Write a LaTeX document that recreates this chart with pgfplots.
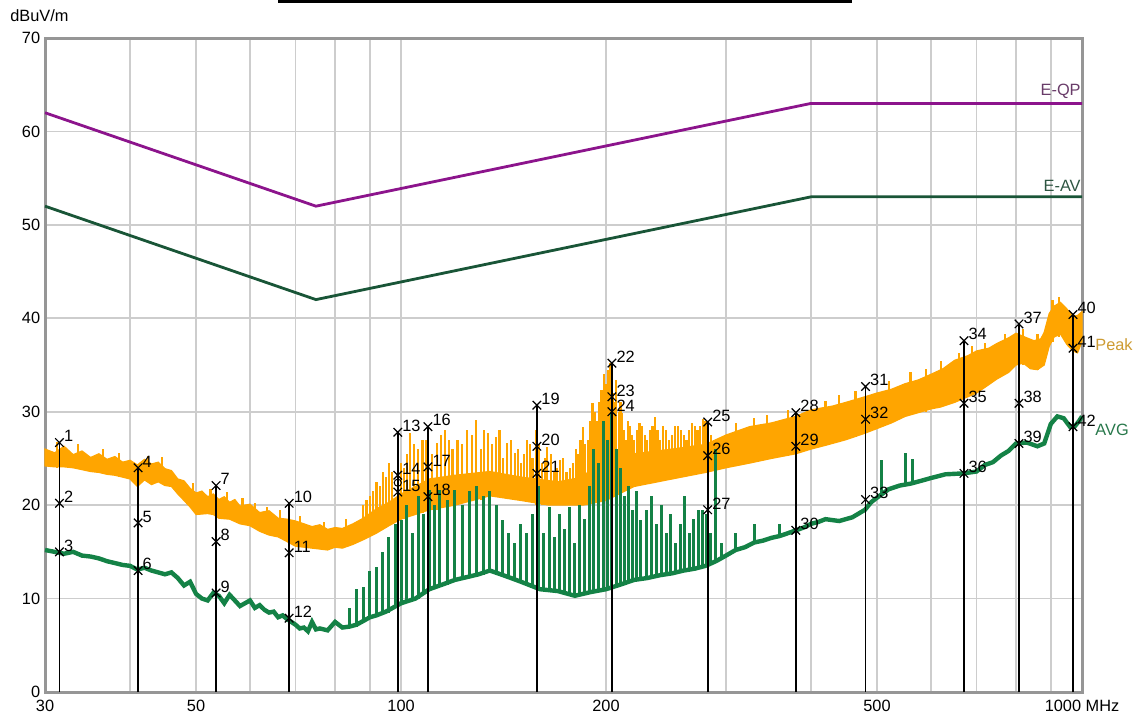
\documentclass[border=0pt]{standalone}
\usepackage{pgfplots}
\usepackage{pgfplotstable}
\pgfplotsset{compat=1.18}
\usepackage{fontspec}
\setmainfont{Liberation Sans}
\definecolor{pk}{RGB}{255,165,0}
\definecolor{avg}{RGB}{20,130,70}
\definecolor{qpl}{RGB}{140,20,140}
\definecolor{avl}{RGB}{25,85,55}
\definecolor{gridc}{RGB}{205,205,205}
\definecolor{framec}{RGB}{150,150,150}
\newcommand{\fs}{\fontsize{8.2}{10}\selectfont}

% spikes of the peak trace: f, base, top
\pgfplotstableread{
f b t
31.2 24 26.8
33.5 24 26.5
36.5 23.5 26
38.5 23 25.6
42.5 22.5 25.3
44.5 22.5 25.1
49.5 20 22.4
52.5 19 21.7
55.5 18.5 21.4
58.5 18 20.8
61 17.5 20.2
63.5 17 19.8
66.5 16.5 19.5
71 15.5 18.8
77 15.3 18.2
83 15.5 18.5
88 16.5 20
89 16.8 20.5
90 17 21
91 17 21.5
92 17 22.5
93 17.2 22
94 17.5 23.5
95 17.6 23
96 18 24.5
97 18 23.5
99 18.5 25
100 18.5 24.5
101 18.5 24
102 18.8 25.5
103 19 27.7
104.5 19 26.5
106 19 26
107.5 19.2 27
109 19.5 27
111 19.5 25.5
113 19.5 26.7
114.5 19.8 27.5
116 20 28
117.5 20 27
119 20 26
121 20 27
123 20.2 26.5
125 20.5 28
127 20.5 27.5
129 20.5 29.1
131 20.5 26
132.5 20.8 28
134 21 27.7
136 21 26.5
138 21 27.3
139.5 21 28
141 21 25
143 21 26.7
145 20.8 27
147 20.5 25.6
148.5 20.5 26
150 20.5 24.5
151.5 20.5 25.5
153 20.5 27
154.5 20.5 26.5
156 20.5 25
158 20 28
159.5 20.2 26.5
161 20 24.5
162.5 20 25
164 20 26.2
166 20 25.5
168 20 23.5
169.5 20 24
171 20 24.8
173 20 25
175 20 23.5
177 20 24
179 20 24.5
180.5 20 26
182 20 25.5
183.5 20 27
185 20 28.4
186.5 20.2 26.5
188 20.5 27
189.5 20.5 29
191 20.5 30.9
192.5 20.5 30
194 20.5 29
195.5 20.8 31
197 21 32.3
198.5 21 34
200 21 33
201.5 21 34.5
203 21 35.2
205 21 32
206 21 31
207 21.5 33.4
209 21.5 30
210 21.5 31
211 21.5 29.9
212.5 21.8 28
214 22 27
215.5 22 29
217 22 28.5
218.5 22.2 27.5
220 22.5 27
222 22.5 28
224 22.5 28.8
226 22.5 28.5
228 22.5 27.5
230 22.5 27
232 22.5 28
234 22.8 28.5
236 23 29.4
238 23 28
240 23 27
242.5 23 28.5
245 23 28
247.5 23 27
250 23 27.5
252.5 23 28.5
255 23 28.5
257.5 23.2 28
260 23.5 27.5
262.5 23.5 27
265 23.5 28
267.5 23.5 28.8
270 23.5 28.5
272.5 23.8 28
275 24 28.5
277.5 24 29.2
280 24 29
282.5 24 28
285 24 27.5
290 24 27
310 24.5 28.8
330 24.8 29.3
345 25 29.6
370 25.3 30.2
420 26.4 31.2
440 26.8 31.8
465 27.3 32.2
520 28.7 33.3
560 29.6 34.2
590 30 34.6
620 30.5 35.4
660 31.2 36.3
690 31.8 37
720 32.6 37.4
770 34 38.3
820 35 38.8
860 34.5 38.3
905 37.5 42
925 38 42.3
}\pkspikes

% spikes of the average trace: f, base, top
\pgfplotstableread{
f b t
84 7 9
86 7 11
88 7.5 11.2
90 8 13
92 8 13.4
94 8.5 15
96 8.5 16.6
98 9 18
100 9.5 18.4
102 9.5 20
104 10 17
106 10 21
108 10.5 19
110 11 21.6
112 11 20
114 11.5 21.6
117 11.5 20.5
120 12 21.6
123 12 20
126 12.5 21.5
129 12.5 22
132 12.5 21
135 13 21.5
138 13 20
141 12.5 18.4
144 12.3 17
147 12 16
150 11.8 18
153 11.5 17
156 11.2 19
159 11 22
162 11 17
165 11 19.8
168 10.8 16.6
171 10.8 19
174 10.5 17.5
177 10.5 19.8
180 10.3 16
183 10.3 20
186 10.5 18.5
189 10.5 22
192 10.8 26
195 10.8 24.5
198 11 29
201 11 27
204 11 30
207 11.2 26
210 11.5 24
213 11.5 21
216 11.8 22
219 12 19.5
222 12 21.5
225 12 18.4
229 12.2 19.5
233 12.2 21
237 12.4 18
241 12.5 20
245 12.5 17
249 12.6 19
253 12.8 16
257 12.8 18
261 13 21
265 13 17
269 13.2 18.5
273 13.3 19.5
277 13.4 19.5
281 13.5 19
285 13.6 17
290 14 26
296 14.3 16
310 15 17
330 15.8 18
360 16.5 18
508 21.3 24.8
550 22.3 25.6
564 22.5 24.9
}\avspikes

% marker readings
\pgfplotstableread{
f v l
31.5 26.7 1
31.5 20.2 2
31.5 15.0 3
41.1 24.0 4
41.1 18.1 5
41.1 13.0 6
53.5 22.1 7
53.5 16.1 8
53.5 10.6 9
68.5 20.2 10
68.5 14.9 11
68.5 7.9 12
98.9 27.8 13
98.9 23.2 14
98.9 21.4 15
109.5 28.4 16
109.5 24.1 17
109.5 20.9 18
158.3 30.7 19
158.3 26.3 20
158.3 23.4 21
204 35.2 22
204 31.6 23
204 30.0 24
282 28.9 25
282 25.3 26
282 19.5 27
380 29.9 28
380 26.3 29
380 17.3 30
481 32.7 31
481 29.2 32
481 20.6 33
671 37.6 34
671 30.9 35
671 23.4 36
808 39.4 37
808 30.9 38
808 26.6 39
970 40.4 40
970 36.8 41
970 28.4 42
}\markers

\begin{document}
\fs
\begin{tikzpicture}
\begin{axis}[
  at={(0,0)}, anchor=south west,
  scale only axis, width=518.5bp, height=327bp,
  xmode=log, xmin=30, xmax=1000, ymin=0, ymax=70,
  xtick={30,40,50,60,70,80,90,100,200,300,400,500,600,700,800,900,1000},
  xticklabels={30,,50,,,,,100,200,,,500,,,,,1000 MHz},
  ytick={0,10,...,70},
  grid=major,
  major grid style={gridc, line width=0.8bp},
  major tick length=0pt,
  axis line style={framec, line width=1.5bp},
  tick label style={font=\fs},
  /pgf/number format/assume math mode=true,
  xticklabel style={yshift=-1bp},
  yticklabel style={xshift=0.5bp},
  clip=false,
]
% limit lines
\addplot[qpl, line width=1.4bp] coordinates {(30,62) (75,52) (400,63) (1000,63)};
\addplot[avl, line width=1.4bp] coordinates {(30,52) (75,42) (400,53) (1000,53)};

% peak trace band
\addplot[fill=pk, draw=pk, line width=0.6bp] coordinates {
(30,26) (31,25.6) (32,26.3) (33,25.4) (34,25.8) (35,25.1) (36,25.5) (37,24.9) (38,25.2) (39,24.6)
(40,24.8) (41,24.3) (42,24.9) (43,24.4) (44,24.6) (45,23.9) (46,23.7) (47,22.8) (48,22.6) (49,21.8)
(50,21.3) (51,21.5) (52,20.9) (53,21.2) (54,20.6) (55,20.9) (56,20.3) (57,20.6) (58,19.9) (60,20.1)
(62,19.2) (64,19.4) (66,18.6) (68,18.5) (70,18.3) (72,18.0) (74,17.7) (76,17.9) (78,17.4) (80,17.6)
(82,17.5) (85,18) (88,18.6) (92,19.6) (96,20.3) (100,21.2) (105,22) (110,22.8) (120,23.2) (135,23.6)
(150,23) (170,22.5) (185,23) (200,25.5) (220,25.5) (250,26) (280,26.5) (300,27.5) (325,28.4) (350,28.8)
(380,29.5) (400,30.2) (430,30.6) (450,31) (480,31.6) (500,32) (525,32.4) (550,33) (575,33.4) (600,34)
(625,34.6) (650,35.5) (680,36) (700,36.5) (730,36.8) (750,37.3) (780,37.9) (800,38.4) (830,37.9) (850,37.6)
(870,37.8) (880,38.5) (895,40.5) (910,41.3) (930,41.7) (950,41) (970,40.2) (985,40.3) (1000,40.7)
(1000,37.5) (985,36.3) (970,36.5) (950,37.2) (930,38.3) (910,38) (895,37) (880,35) (860,34.5) (840,34.6)
(820,35.2) (800,35) (780,34.2) (750,33.5) (720,32.6) (700,32) (680,31.6) (650,31) (620,30.5) (600,30.3)
(575,29.9) (550,29.5) (525,28.8) (500,28.2) (480,27.7) (450,27) (420,26.4) (400,26) (380,25.5) (350,25)
(325,24.5) (300,24) (280,23.5) (250,22.8) (220,22) (200,20.5) (185,20) (165,20) (150,20.5) (135,21)
(120,20) (110,19.5) (100,18.5) (96,17.8) (92,17) (88,16.3) (85,15.8) (82,15.4) (80,15.5) (78,15.2)
(76,15.3) (74,15.4) (72,15.5) (70,15.6) (68,16.1) (66,16.6) (64,16.8) (62,17.2) (60,17.8) (58,18.0)
(56,18.5) (54,18.6) (53,19) (52,19.1) (50,19.0) (49,19.8) (48,20.5) (47,21.2) (46,22) (45,22.1)
(44,22.5) (43,22.2) (42,22.7) (41,22) (40,22.8) (39,23) (38,23.2) (37,23.3) (36,23.5) (35,23.6)
(34,23.8) (33,24) (32,24.1) (31,24.1) (30,24.2)
} -- cycle;
\addplot[draw=none, mark=none, error bars/.cd, y dir=plus, y explicit, error mark=none,
  error bar style={pk, line width=1.1bp}]
  table[x=f, y=b, y error expr=\thisrow{t}-\thisrow{b}] {\pkspikes};

% average trace
\addplot[avg, line width=2.2bp] coordinates {
(30,15.2) (31,15) (32,14.8) (33,15) (34,14.6) (35,14.5) (36,14.3) (37,14) (38,13.8) (39,13.6)
(40,13.5) (41,13.1) (42,13.3) (43,13) (44,12.8) (45,12.6) (46,12.8) (47,12.2) (48,11.4) (49,11.8)
(50,10.5) (51,10) (52,9.8) (53,10.6) (54,10.3) (55,9.5) (56,10.4) (57,9.8) (58,9.2) (59,9.5)
(60,9.8) (61,9) (62,9.3) (63,8.8) (64,8.5) (65,8.6) (66,8) (67,8.2) (68,7.8) (69,7.5)
(70,7.2) (71,6.8) (72,6.9) (73,6.5) (74,7.5) (75,6.7) (76,6.8) (78,6.6) (80,7.5) (82,6.9)
(84,7) (86,7.2) (88,7.6) (90,8) (92,8.2) (95,8.6) (100,9.5) (105,10) (110,11) (115,11.5)
(120,12) (125,12.3) (130,12.6) (135,13) (140,12.6) (145,12.2) (150,11.8) (160,11) (170,10.8) (180,10.3)
(190,10.7) (200,11) (210,11.5) (220,12) (230,12.2) (240,12.5) (250,12.7) (260,13) (270,13.2) (280,13.5)
(290,14) (300,14.6) (310,15.2) (320,15.5) (330,16) (340,16.2) (350,16.5) (360,16.7) (370,17) (380,17.3)
(390,17.6) (400,18) (410,18.2) (420,18.5) (440,18.3) (460,18.7) (480,19.5) (490,20.3) (500,20.8) (520,21.7)
(540,22.1) (560,22.3) (580,22.6) (600,22.9) (630,23.3) (670,23.4) (700,23.6) (720,24.3) (740,24.6) (760,25.3)
(780,25.8) (800,26.6) (830,26.7) (860,26.3) (880,26.6) (900,28.7) (920,29.5) (940,29.3) (960,28.4) (975,28.4)
(990,29) (1000,29.5)
};
\addplot[draw=none, mark=none, error bars/.cd, y dir=plus, y explicit, error mark=none,
  error bar style={avg, line width=1.5bp}]
  table[x=f, y=b, y error expr=\thisrow{t}-\thisrow{b}] {\avspikes};

% marker lines
\addplot[ycomb, black, line width=0.9bp, mark=none] coordinates {
(31.5,26.7) (41.1,24.0) (53.5,22.1) (68.5,20.2) (98.9,27.8) (109.5,28.4) (158.3,30.7)
(204,35.2) (282,28.9) (380,29.9) (481,32.7) (671,37.6) (808,39.4) (970,40.4)
};
\addplot[only marks, mark=o, mark size=1.8bp, black, mark options={line width=0.5bp}] coordinates {(98.9,22.4)};
\addplot[only marks, mark=x, mark size=3bp, black, mark options={line width=0.6bp},
  nodes near coords, point meta=explicit symbolic,
  every node near coord/.append style={anchor=south west, font=\fs, inner sep=0.5bp, xshift=1.5bp, yshift=-0.5bp, text=black}]
  table[x=f, y=v, meta=l] {\markers};

% trace and limit names
\node[anchor=south east, inner sep=0.5bp, text={rgb,255:red,105;green,60;blue,105}, font=\fs] at (axis cs:1000,63.4) {E-QP};
\node[anchor=south east, inner sep=0.5bp, text={rgb,255:red,45;green,85;blue,65}, font=\fs] at (axis cs:1000,53.4) {E-AV};
\node[anchor=west, inner sep=0.5bp, text={rgb,255:red,205;green,155;blue,50}, font=\fs] at ([xshift=6bp]axis cs:1000,37.2) {Peak};
\node[anchor=west, inner sep=0.5bp, text={rgb,255:red,40;green,120;blue,75}, font=\fs] at ([xshift=6bp]axis cs:1000,28.1) {AVG};

% axis unit and title bar
\node[anchor=base west, inner sep=0pt, font=\fs] at ([xshift=-17.5bp, yshift=8.5bp]rel axis cs:0,1) {dBuV/m};
\fill[black] ([xshift=116.5bp, yshift=17.5bp]rel axis cs:0,1) rectangle ([xshift=403.5bp, yshift=19bp]rel axis cs:0,1);
\end{axis}
\pgfresetboundingbox
\path[use as bounding box] (-22.5bp,-16bp) rectangle (545bp,346bp);
\end{tikzpicture}
\end{document}
